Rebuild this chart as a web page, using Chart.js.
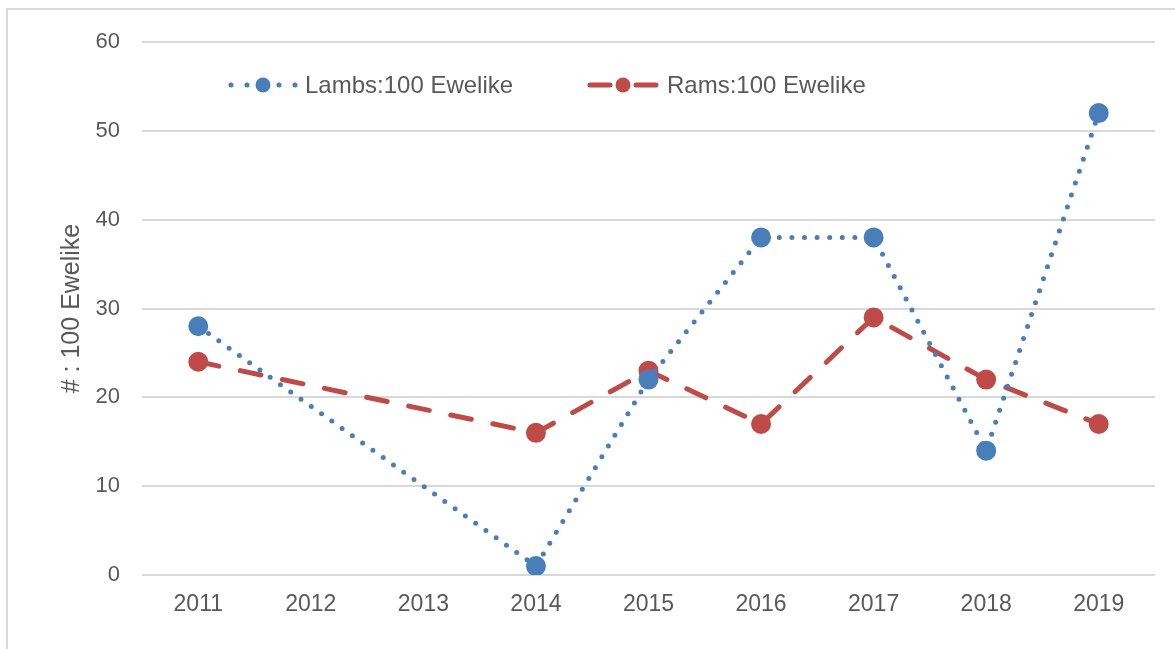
<!DOCTYPE html>
<html>
<head>
<meta charset="utf-8">
<script src="https://cdn.jsdelivr.net/npm/chart.js@4.4.1/dist/chart.umd.min.js"></script>
<style>
  html, body { margin: 0; padding: 0; background: #ffffff; overflow: hidden; }
  #wrap { position: relative; width: 1175px; height: 649px; overflow: hidden; }
  #frame { position: absolute; left: 6px; top: 8px; width: 1200px; height: 700px; border: 2px solid #d9d9d9; box-sizing: border-box; }
  #c { position: absolute; left: 0; top: 0; }
</style>
</head>
<body>
<div id="wrap">
  <div id="frame"></div>
  <canvas id="c" width="1175" height="649"></canvas>
</div>
<script>
const years = ['2011', '2012', '2013', '2014', '2015', '2016', '2017', '2018', '2019'];
const lambsPer100Ewelike = [28, null, null, 1, 22, 38, 38, 14, 52];
const ramsPer100Ewelike = [24, null, null, 16, 23, 17, 29, 22, 17];
const seriesNames = ['Lambs:100 Ewelike', 'Rams:100 Ewelike'];
const yAxisTitle = '# : 100 Ewelike';

const BLUE = '#4a7ebb';
const RED = '#be4b48';
const TXT = '#595959';
const FONT = "'Liberation Sans', Arial, sans-serif";

const legendPlugin = {
  id: 'insideLegend',
  afterDatasetsDraw(chart) {
    const ctx = chart.ctx;
    const y = 85;
    const entries = [
      { ds: chart.data.datasets[0], x0: 228, x1: 298, dash: [0, 16], gap: 0, text: 305 },
      { ds: chart.data.datasets[1], x0: 590, x1: 656, dash: [], gap: 13, text: 667 }
    ];
    entries.forEach(e => {
      const ds = e.ds;
      const cx = (e.x0 + e.x1) / 2;
      ctx.save();
      ctx.strokeStyle = ds.borderColor;
      ctx.lineWidth = ds.borderWidth;
      ctx.lineCap = ds.borderCapStyle;
      ctx.setLineDash(e.dash);
      ctx.beginPath(); ctx.moveTo(cx - e.gap, y); ctx.lineTo(e.x0, y); ctx.stroke();
      ctx.beginPath(); ctx.moveTo(cx + e.gap, y); ctx.lineTo(e.x1, y); ctx.stroke();
      ctx.setLineDash([]);
      ctx.fillStyle = ds.pointBackgroundColor;
      ctx.beginPath(); ctx.arc(cx, y, ds.pointRadius, 0, Math.PI * 2); ctx.fill();
      ctx.fillStyle = TXT;
      ctx.font = '24px ' + FONT;
      ctx.textBaseline = 'middle';
      ctx.textAlign = 'left';
      ctx.fillText(ds.label, e.text, y + 1);
      ctx.restore();
    });
  }
};

new Chart(document.getElementById('c'), {
  type: 'line',
  data: {
    labels: years,
    datasets: [
      {
        label: seriesNames[0],
        data: lambsPer100Ewelike,
        borderColor: BLUE,
        backgroundColor: BLUE,
        pointBackgroundColor: BLUE,
        pointBorderColor: BLUE,
        borderWidth: 5,
        borderDash: [0, 12.6],
        borderCapStyle: 'round',
        pointRadius: 7.5,
        pointHoverRadius: 7.5,
        spanGaps: true,
        tension: 0,
        fill: false
      },
      {
        label: seriesNames[1],
        data: ramsPer100Ewelike,
        borderColor: RED,
        backgroundColor: RED,
        pointBackgroundColor: RED,
        pointBorderColor: RED,
        borderWidth: 5,
        borderDash: [21, 22],
        borderCapStyle: 'round',
        pointRadius: 7.5,
        pointHoverRadius: 7.5,
        spanGaps: true,
        tension: 0,
        fill: false
      }
    ]
  },
  options: {
    responsive: false,
    devicePixelRatio: 1,
    animation: false,
    events: [],
    layout: { padding: { left: 0, right: 20, top: 42, bottom: 0 } },
    plugins: {
      legend: { display: false },
      tooltip: { enabled: false },
      title: { display: false }
    },
    scales: {
      x: {
        type: 'category',
        offset: true,
        grid: { display: false, drawTicks: false },
        border: { display: false },
        ticks: { color: TXT, font: { family: FONT, size: 23 }, padding: 16, maxRotation: 0, autoSkip: false },
        afterFit(s) { s.height = 74; }
      },
      y: {
        min: 0,
        max: 60,
        ticks: { stepSize: 10, color: TXT, font: { family: FONT, size: 22 }, padding: 22 },
        grid: { color: '#d9d9d9', lineWidth: 2, drawTicks: false },
        border: { display: false },
        title: {
          display: true,
          text: yAxisTitle,
          color: TXT,
          font: { family: FONT, size: 25 },
          padding: { top: 57, bottom: 0 }
        },
        afterFit(s) { s.width = 142; }
      }
    }
  },
  plugins: [legendPlugin]
});
</script>
</body>
</html>
